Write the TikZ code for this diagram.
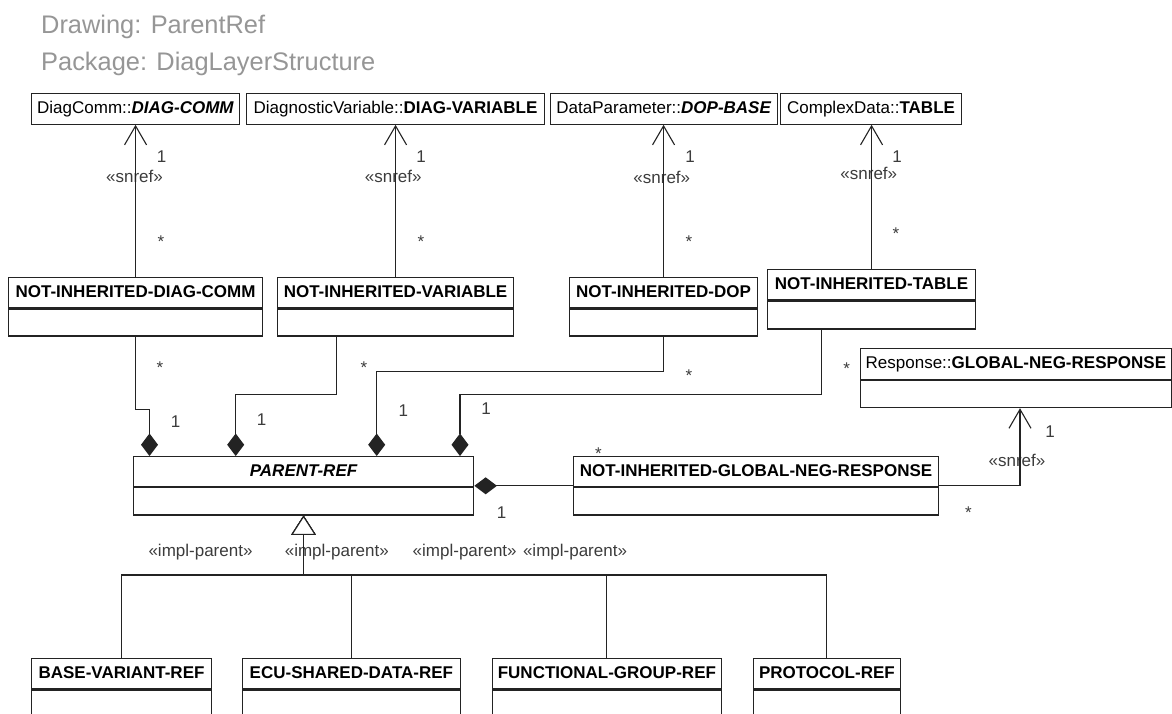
\documentclass[tikz,border=0pt]{standalone}
\usepackage{fontspec}
\setmainfont{Liberation Sans}
\usetikzlibrary{arrows.meta,calc}
\definecolor{linec}{RGB}{35,35,35}
\definecolor{labc}{RGB}{60,60,60}
\definecolor{headc}{RGB}{150,150,150}
\begin{document}
\begin{tikzpicture}[x=1pt,y=-1pt,
  ink/.style={draw=linec, line width=1.1pt},
  hd/.style={ink, fill=white, inner sep=0pt, minimum height=30.6pt,
    text height=12.2pt, text depth=3pt, anchor=north west,
    font=\fontsize{17pt}{20pt}\selectfont},
  bd/.style={ink, fill=white, inner sep=0pt, anchor=north west, minimum height=27pt},
  lab/.style={inner sep=0pt, text=labc, font=\fontsize{17pt}{20pt}\selectfont},
  mult/.style={lab},
  astr/.style={lab, anchor=base},
  stereo/.style={lab, anchor=base},
  hdr/.style={inner sep=0pt, anchor=base west, text=headc,
    font=\fontsize{25.4pt}{30pt}\selectfont},
  assoc/.style={ink, -{Straight Barb[length=19pt,width=22pt]}},
  comp/.style={ink, -{Diamond[length=22.5pt,width=17pt]}},
  gen/.style={ink, -{Triangle[open,length=19.4pt,width=24.6pt,fill=white]}}
]
\useasboundingbox[fill=white] (0,0) rectangle (1172,713);
\clip (0,0) rectangle (1172,713);

% title block
\node[hdr] (drawing) at (41,33.3) {Drawing: ParentRef};
\node[hdr] (package) at (41,70.7) {Package: DiagLayerStructure};

% referenced classes
\node[hd, minimum width=208, minimum height=30.4] (dc) at (31,93.3) {DiagComm::\textbf{\textit{DIAG-COMM}}};
\node[hd, minimum width=298, minimum height=30.4] (dv) at (246,93.3) {DiagnosticVariable::\textbf{DIAG-VARIABLE}};
\node[hd, minimum width=226.7, minimum height=30.4] (dp) at (550,93.3) {DataParameter::\textbf{\textit{DOP-BASE}}};
\node[hd, minimum width=181, minimum height=30.4] (cd) at (780,93.3) {ComplexData::\textbf{TABLE}};

% NOT-INHERITED classes
\node[hd, minimum width=253.4] (ndch) at (8.3,276.7) {\bfseries NOT-INHERITED-DIAG-COMM};
\node[bd, minimum width=253.4] (ndcb) at (ndch.south west) {};
\node[hd, minimum width=236.6] (nvh) at (276.7,276.7) {\bfseries NOT-INHERITED-VARIABLE};
\node[bd, minimum width=236.6] (nvb) at (nvh.south west) {};
\node[hd, minimum width=188] (ndh) at (569,276.7) {\bfseries NOT-INHERITED-DOP};
\node[bd, minimum width=188] (ndb) at (ndh.south west) {};
\node[hd, minimum width=208, minimum height=30] (nth) at (767,269.3) {\bfseries NOT-INHERITED-TABLE};
\node[bd, minimum width=208, minimum height=28] (ntb) at (nth.south west) {};

% response class
\node[hd, minimum width=310.7, minimum height=30.7] (rsh) at (860,348.3) {Response::\textbf{GLOBAL-NEG-RESPONSE}};
\node[bd, minimum width=310.7] (rsb) at (rsh.south west) {};

% parent reference and global negative response
\node[hd, minimum width=340.6, minimum height=30] (prh) at (132.7,456) {\bfseries\itshape PARENT-REF};
\node[bd, minimum width=340.6, minimum height=27.3] (prb) at (prh.south west) {};
\node[hd, minimum width=365.6, minimum height=30] (ngh) at (572.7,456) {\bfseries NOT-INHERITED-GLOBAL-NEG-RESPONSE};
\node[bd, minimum width=365.6, minimum height=27.3] (ngb) at (ngh.south west) {};

% specialisations
\node[hd, minimum width=180] (bvh) at (31,657.7) {\bfseries BASE-VARIANT-REF};
\node[bd, minimum width=180, minimum height=40] (bvb) at (bvh.south west) {};
\node[hd, minimum width=218.3] (ecuh) at (241.7,657.7) {\bfseries ECU-SHARED-DATA-REF};
\node[bd, minimum width=218.3, minimum height=40] (ecub) at (ecuh.south west) {};
\node[hd, minimum width=229.3] (fgh) at (491.7,657.7) {\bfseries FUNCTIONAL-GROUP-REF};
\node[bd, minimum width=229.3, minimum height=40] (fgb) at (fgh.south west) {};
\node[hd, minimum width=147.3] (proh) at (752.7,657.7) {\bfseries PROTOCOL-REF};
\node[bd, minimum width=147.3, minimum height=40] (prob) at (proh.south west) {};

% snref associations to the referenced classes
\node[mult] (m1) at (161.7,156.7) {1};
\node[stereo] (s1) at (134.5,182.7) {«snref»};
\node[astr] (k1) at (161,247.1) {*};
\node[mult] (m2) at (421,156.7) {1};
\node[stereo] (s2) at (393.2,182.7) {«snref»};
\node[astr] (k2) at (421,247.1) {*};
\node[mult] (m3) at (690,156.7) {1};
\node[stereo] (s3) at (661.8,183.3) {«snref»};
\node[astr] (k3) at (689,247.8) {*};
\node[mult] (m4) at (897,156.7) {1};
\node[stereo] (s4) at (868.8,179.3) {«snref»};
\node[astr] (k4) at (896,239.8) {*};

\draw[assoc] (ndch.north) -- (ndch.north |- dc.south);
\draw[assoc] (nvh.north) -- (nvh.north |- dv.south);
\draw[assoc] (ndh.north) -- (ndh.north |- dp.south);
\draw[assoc] (nth.north) -- (nth.north |- cd.south);

% compositions into PARENT-REF
\node[astr] (k5) at (160,373.8) {*};
\node[astr] (k6) at (364,373.8) {*};
\node[astr] (k7) at (689,381.5) {*};
\node[astr] (k8) at (846.7,374.8) {*};
\node[mult] (m5) at (175.7,421.7) {1};
\node[mult] (m6) at (261.7,419.3) {1};
\node[mult] (m7) at (403.3,410.7) {1};
\node[mult] (m8) at (486,408.3) {1};

\draw[comp] (ndcb.south) -- ++(0,73.4) -| ($(prh.north west)+(16.8,0)$);
\draw[comp] ($(nvb.south west)+(60,0)$) -- ++(0,58) -| ($(prh.north west)+(103,0)$);
\draw[comp] (ndb.south) -- ++(0,35) -| ($(prh.north west)+(244,0)$);
\draw[comp] ($(ntb.south west)+(54.7,0)$) -- ++(0,65) -| ($(prh.north west)+(327.3,0)$);

% global negative response
\node[astr] (k9) at (598.3,459.1) {*};
\node[mult] (m9) at (501.7,513) {1};
\draw[comp] ($(ngh.south west)+(0,-1.3)$) -- ($(prh.south east)+(0,-1.3)$);

\node[mult] (m10) at (1050,432) {1};
\node[stereo] (s5) at (1017,466.7) {«snref»};
\node[astr] (k10) at (968.3,518.8) {*};
\draw[assoc] ($(ngh.south east)+(0,-1.3)$) -| ($(rsb.south west)+(160,0)$);

% implementation parents
\node[stereo] (i1) at (200.5,556) {«impl-parent»};
\node[stereo] (i2) at (336.8,556) {«impl-parent»};
\node[stereo] (i3) at (464.7,556) {«impl-parent»};
\node[stereo] (i4) at (575,556) {«impl-parent»};

\coordinate (busy) at (0,575);
\coordinate (bus) at (prb.south |- busy);
\draw[gen] (bvh.north) |- (bus) -- (prb.south);
\draw[gen] (ecuh.north) |- (bus) -- (prb.south);
\draw[gen] (fgh.north) |- (bus) -- (prb.south);
\draw[gen] (proh.north) |- (bus) -- (prb.south);
\end{tikzpicture}
\end{document}
